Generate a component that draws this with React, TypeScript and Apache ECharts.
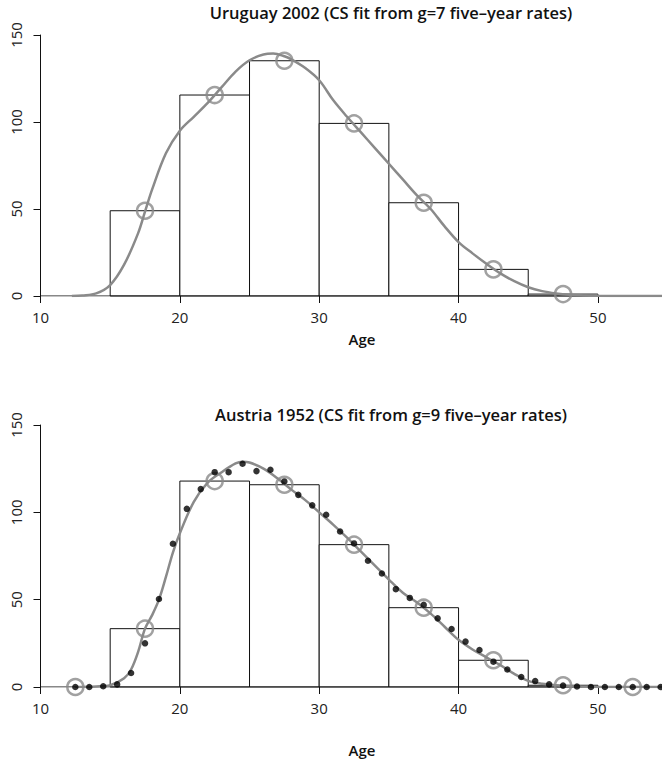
import React, { useEffect, useRef } from "react";
import * as echarts from "echarts";

// ---------- Data ----------
const xTicks = [10, 20, 30, 40, 50];
const yTicks = [0, 50, 100, 150];

// Uruguay 2002: five-year groups [start, end] and rates
const uruStarts = [15, 20, 25, 30, 35, 40, 45];
const uruRates = [49, 115.5, 135.2, 99.2, 53.6, 15.3, 1.1];
const uruMidAges = [17.5, 22.5, 27.5, 32.5, 37.5, 42.5, 47.5];
const uruCurveAges = [12.25, 13, 14, 15, 16, 17, 17.5, 18, 19, 20, 21, 22, 23, 24, 25, 26, 26.7, 27.5, 28, 29, 30, 31, 32, 33, 34, 35, 36, 37, 38, 39, 40, 41, 42, 43, 44, 45, 46, 47, 48, 49, 50, 52, 54.6];
const uruCurveVals = [0, 0.3, 1.5, 6.3, 18, 36, 48.5, 61, 82, 95, 103, 111, 120, 129, 135.5, 138.8, 139.3, 137.8, 136, 131, 124, 112.6, 103, 94, 85, 76, 67, 58, 50, 40, 31, 24.5, 18.5, 13, 8.5, 5, 2.8, 1.5, 0.7, 0.3, 0.1, 0, 0];

// Austria 1952
const ausStarts = [15, 20, 25, 30, 35, 40, 45];
const ausRates = [33.4, 117.9, 115.8, 81.5, 45.4, 15.3, 1.0];
const ausCircleAges = [12.5, 17.5, 22.5, 27.5, 32.5, 37.5, 42.5, 47.5, 52.5];
const ausCircleVals = [0, 33.4, 117.9, 115.8, 81.5, 45.4, 15.3, 1.0, 0];
const ausSingleAges = [12.5, 13.5, 14.5, 15.5, 16.5, 17.5, 18.5, 19.5, 20.5, 21.5, 22.5, 23.5, 24.5, 25.5, 26.5, 27.5, 28.5, 29.5, 30.5, 31.5, 32.5, 33.5, 34.5, 35.5, 36.5, 37.5, 38.5, 39.5, 40.5, 41.5, 42.5, 43.5, 44.5, 45.5, 46.5, 47.5, 48.5, 49.5, 50.5, 51.5, 52.5, 53.5, 54.5];
const ausSingleVals = [0, 0, 0.4, 1.5, 8, 25, 50.4, 82, 102, 113.3, 123, 123, 127.8, 123.6, 124.4, 117.7, 110, 104, 98.6, 89, 82.2, 72.3, 65, 56, 51, 47, 39.3, 33.2, 26, 21.2, 14.5, 10, 5.7, 3.4, 1.5, 0.8, 0.3, 0, 0, 0, 0, 0, 0];
const ausCurveAges = [12.5, 14, 15, 16, 16.5, 17, 17.5, 18, 18.5, 19, 19.5, 20, 21, 22, 23, 24, 24.5, 25, 26, 27, 28, 29, 30, 31, 32, 33, 34, 35, 36, 37, 38, 39, 40, 41, 42, 43, 44, 45, 46, 47, 48, 49, 50, 54.6];
const ausCurveVals = [0, 0.3, 1, 5, 10, 20, 33.4, 41, 50, 63, 77, 88, 106, 117, 123, 128, 129, 128.5, 125, 119.5, 113, 107, 100, 93, 85.5, 77.5, 69.5, 61.5, 54, 48.5, 42, 34.5, 27, 21.5, 17, 12.5, 7.5, 3.5, 1.8, 1, 0.5, 0.2, 0, 0];

const titles = [
  "Uruguay 2002 (CS fit from g=7 five\u2013year rates)",
  "Austria 1952 (CS fit from g=9 five\u2013year rates)",
];
const xName = "Age";

// ---------- Styles ----------
const GRAY = "#8a8a8a";
const FONT = "'Open Sans', 'Noto Sans', sans-serif";

function zip(a: number[], b: number[]) {
  return a.map((v, i) => [v, b[i]]);
}

export default function App() {
  const ref = useRef<HTMLDivElement>(null);
  useEffect(() => {
    if (!ref.current) return;
    const chart = echarts.init(ref.current, undefined, { renderer: "svg" });

    const grids = [
      { left: 40.5, width: 621.5, top: 35, height: 261 },
      { left: 40.5, width: 621.5, top: 425, height: 262 },
    ];

    const xAxis = [0, 1].map((i) => ({
      type: "value" as const,
      gridIndex: i,
      min: 10,
      max: 54.6,
      interval: 10,
      axisLine: { show: false },
      axisTick: { show: true, length: 7, lineStyle: { color: "#111", width: 1 } },
      axisLabel: {
        show: true,
        margin: 13,
        fontSize: 15,
        fontFamily: FONT,
        color: "#222",
        showMaxLabel: false,
        formatter: (v: number) => (xTicks.includes(v) ? String(v) : ""),
      },
      splitLine: { show: false },
    }));

    const yAxis = [0, 1].map((i) => ({
      type: "value" as const,
      gridIndex: i,
      min: 0,
      max: 150,
      interval: 50,
      axisLine: { show: true, lineStyle: { color: "#111", width: 1 } },
      axisTick: { show: true, length: 7, lineStyle: { color: "#111", width: 1 } },
      axisLabel: {
        show: true,
        rotate: 90,
        margin: 17,
        fontSize: 15,
        fontFamily: FONT,
        color: "#222",
        formatter: (v: number) => (yTicks.includes(v) ? String(v) : ""),
      },
      splitLine: { show: false },
    }));

    const barSeries = (idx: number, starts: number[], rates: number[]) => ({
      type: "custom" as const,
      xAxisIndex: idx,
      yAxisIndex: idx,
      data: starts.map((s, i) => [s, s + 5, rates[i]]),
      z: 1,
      renderItem: (_p: any, api: any) => {
        const p0 = api.coord([api.value(0), api.value(2)]);
        const p1 = api.coord([api.value(1), 0]);
        return {
          type: "rect",
          shape: { x: p0[0], y: p0[1], width: p1[0] - p0[0], height: p1[1] - p0[1] },
          style: { fill: "#fff", stroke: "#111", lineWidth: 1 },
        };
      },
    });

    const baseLine = (idx: number) => ({
      type: "line" as const,
      xAxisIndex: idx,
      yAxisIndex: idx,
      data: [[10, 0], [50, 0]],
      showSymbol: false,
      silent: true,
      z: 2,
      lineStyle: { color: "#111", width: 1 },
    });

    const curve = (idx: number, ages: number[], vals: number[]) => ({
      type: "line" as const,
      xAxisIndex: idx,
      yAxisIndex: idx,
      data: zip(ages, vals),
      smooth: 0.35,
      showSymbol: false,
      z: 3,
      lineStyle: { color: GRAY, width: 2.5 },
    });

    const circles = (idx: number, ages: number[], vals: number[]) => ({
      type: "scatter" as const,
      xAxisIndex: idx,
      yAxisIndex: idx,
      data: zip(ages, vals),
      symbol: "circle",
      symbolSize: 16,
      z: 4,
      itemStyle: { color: "rgba(0,0,0,0)", borderColor: GRAY, borderWidth: 2.5 },
    });

    const dots = (idx: number, ages: number[], vals: number[]) => ({
      type: "scatter" as const,
      xAxisIndex: idx,
      yAxisIndex: idx,
      data: zip(ages, vals),
      symbol: "circle",
      symbolSize: 6.5,
      z: 5,
      itemStyle: { color: "#000" },
    });

    const tStyle = { fontFamily: FONT, fontSize: 16.5, fontWeight: 600, color: "#111" };
    const aStyle = { fontFamily: FONT, fontSize: 15, fontWeight: 600, color: "#111" };

    chart.setOption({
      animation: false,
      backgroundColor: "#fff",
      grid: grids,
      xAxis,
      yAxis,
      title: [
        { text: titles[0], left: 386, top: -1, textAlign: "center", textStyle: tStyle },
        { text: titles[1], left: 386, top: 401, textAlign: "center", textStyle: aStyle && tStyle },
        { text: xName, left: 357, top: 326, textAlign: "center", textStyle: aStyle },
        { text: xName, left: 357, top: 737, textAlign: "center", textStyle: aStyle },
      ],
      series: [
        barSeries(0, uruStarts, uruRates),
        baseLine(0),
        curve(0, uruCurveAges, uruCurveVals),
        circles(0, uruMidAges, uruRates),
        barSeries(1, ausStarts, ausRates),
        baseLine(1),
        curve(1, ausCurveAges, ausCurveVals),
        circles(1, ausCircleAges, ausCircleVals),
        dots(1, ausSingleAges, ausSingleVals),
      ],
    });
    return () => chart.dispose();
  }, []);

  return (
    <div
      ref={ref}
      style={{ position: "absolute", left: 0, top: 0, width: 662, height: 759, background: "#fff" }}
    />
  );
}
